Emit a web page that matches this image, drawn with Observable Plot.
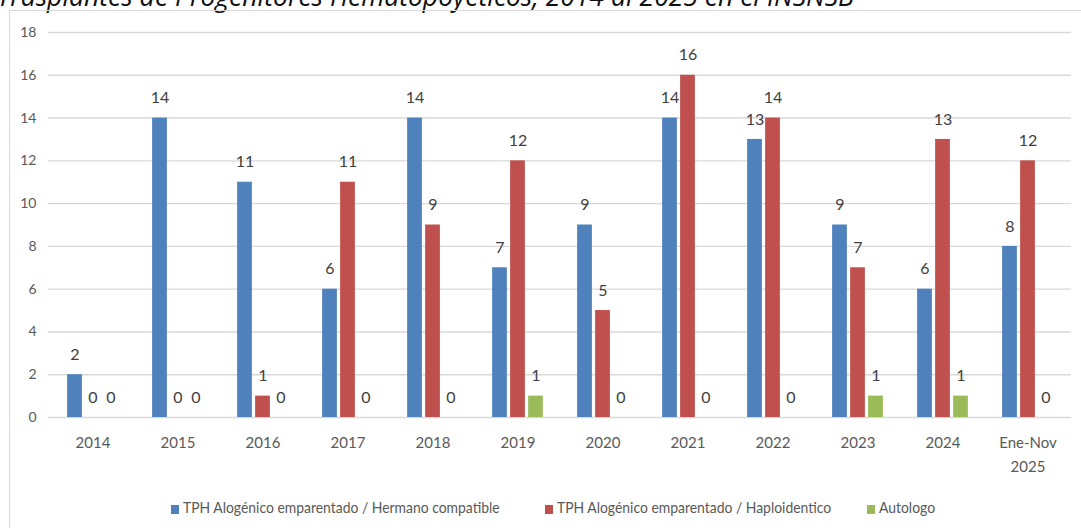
<!DOCTYPE html>
<html>
<head>
<meta charset="utf-8">
<script src="https://cdn.jsdelivr.net/npm/d3@7"></script>
<script src="https://cdn.jsdelivr.net/npm/@observablehq/plot@0.6"></script>
<style>
  html, body { margin: 0; padding: 0; background: #fff; overflow: hidden; width: 1081px; height: 528px; }
  body { position: relative; font-family: Lato, sans-serif; }
  #title { position: absolute; left: -3px; top: -17px; font-size: 26.5px; line-height: 26.5px; font-style: italic; color: #111; white-space: nowrap; font-family: 'Open Sans', Lato, sans-serif; }
  #frame { position: absolute; left: 9px; top: 10px; width: 1100px; height: 540px; border: 1.5px solid #d9d9d9; box-sizing: border-box; }
  #chart { position: absolute; left: 0; top: 0; }
  #legend { position: absolute; top: 497px; left: 0; width: 1081px; height: 20px; font-size: 16px; color: #595959; }
  .item { position: absolute; top: 0; white-space: nowrap; line-height: 20px; }
  .sw { display: inline-block; width: 8px; height: 9px; margin-right: 4px; vertical-align: -1px; }
  .lbl { display: inline-block; transform: scaleX(0.87); transform-origin: left center; }
</style>
</head>
<body>
<div id="title">Trasplantes de Progenitores Hematopoyéticos, 2014 al 2025 en el INSNSB</div>
<div id="frame"></div>
<div id="chart"></div>
<div id="legend"></div>
<script>
const categories = ["2014","2015","2016","2017","2018","2019","2020","2021","2022","2023","2024","Ene-Nov 2025"];
const hermanoCompatible = [2,14,11,6,14,7,9,14,13,9,6,8];
const haploidentico = [0,0,1,11,9,12,5,16,14,7,13,12];
const autologo = [0,0,0,0,0,1,0,0,0,1,1,0];
const seriesNames = [
  "TPH Alogénico emparentado / Hermano compatible",
  "TPH Alogénico emparentado / Haploidentico",
  "Autologo"
];
const seriesColors = ["#4f81bd", "#c0504d", "#9bbb59"];
const yTicks = [0,2,4,6,8,10,12,14,16,18];

const seriesValues = [hermanoCompatible, haploidentico, autologo];
const table = categories.flatMap((c, i) => seriesValues.map((vals, k) => ({cat: c, s: k, v: vals[i]})));
const offsets = [-18, 0, 18];
const inset = (1023 / 12 - 15) / 2;

const marks = [
  Plot.ruleY(yTicks, {stroke: "#d9d9d9", strokeWidth: 1.4})
];
seriesValues.forEach((_, k) => {
  const d = table.filter(r => r.s === k);
  marks.push(Plot.barY(d, {x: "cat", y: "v", fill: seriesColors[k], dx: offsets[k], insetLeft: inset, insetRight: inset}));
  marks.push(Plot.text(d, {x: "cat", y: "v", text: r => String(r.v), dx: offsets[k], dy: -20, fill: "#404040", fontSize: 16}));
});
marks.push(Plot.axisY({ticks: yTicks, tickSize: 0, tickPadding: 12, fontSize: 14, label: null}));
marks.push(Plot.axisX({tickSize: 0, tickPadding: 13, fontSize: 15, label: null, lineHeight: 1.6, tickFormat: d => d.replace(" ", "\n")}));

const chart = Plot.plot({
  width: 1081,
  height: 470,
  marginTop: 32,
  marginBottom: 53,
  marginLeft: 48,
  marginRight: 10,
  x: {type: "band", domain: categories, padding: 0},
  y: {domain: [0, 18]},
  style: {fontFamily: "Lato, sans-serif", color: "#595959", background: "transparent", overflow: "visible"},
  marks
});
document.getElementById("chart").appendChild(chart);

const legend = document.getElementById("legend");
const legendX = [171, 545, 867];
seriesNames.forEach((name, k) => {
  const it = document.createElement("div");
  it.className = "item";
  it.style.left = legendX[k] + "px";
  const sw = document.createElement("span");
  sw.className = "sw";
  sw.style.background = seriesColors[k];
  it.appendChild(sw);
  const t = document.createElement("span");
  t.className = "lbl";
  t.textContent = name;
  it.appendChild(t);
  legend.appendChild(it);
});
</script>
</body>
</html>
